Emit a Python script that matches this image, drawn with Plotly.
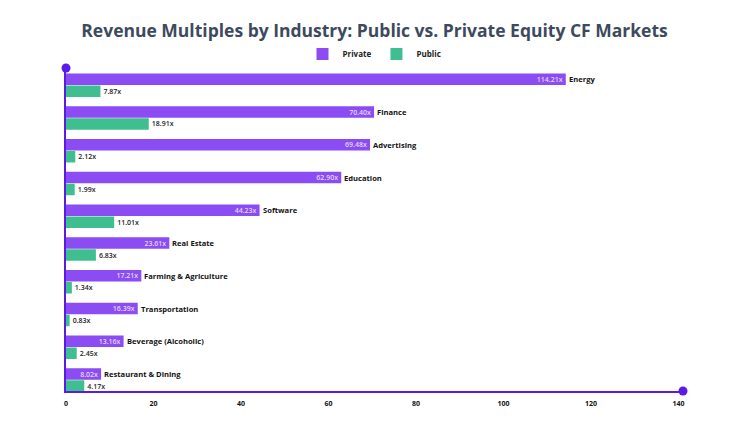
import plotly.graph_objects as go

industries = ["Energy", "Finance", "Advertising", "Education", "Software", "Real Estate",
              "Farming & Agriculture", "Transportation", "Beverage (Alcoholic)", "Restaurant & Dining"]
private_vals = [114.21, 70.40, 69.48, 62.90, 44.23, 23.61, 17.21, 16.39, 13.16, 8.02]
public_vals = [7.87, 18.91, 2.12, 1.99, 11.01, 6.83, 1.34, 0.83, 2.45, 4.17]
x_ticks = [0, 20, 40, 60, 80, 100, 120, 140]

PURPLE = "#8b4cf4"
GREEN = "#3fbf8f"
AXIS = "#5a1be6"
FONT = "Open Sans"

fig = go.Figure()
fig.add_trace(go.Bar(
    name="Private", y=industries, x=private_vals, orientation="h",
    marker=dict(color=PURPLE, line=dict(width=0)),
    text=[f"{v:.2f}x" for v in private_vals], textposition="inside",
    insidetextanchor="end", textangle=0, constraintext="none",
    textfont=dict(color="#e4d6ff", size=7, family=FONT, weight=600),
    cliponaxis=False,
))
fig.add_trace(go.Bar(
    name="Public", y=industries, x=public_vals, orientation="h",
    marker=dict(color=GREEN, line=dict(width=0)),
    text=[f"{v:.2f}x" for v in public_vals], textposition="outside", textangle=0,
    constraintext="none",
    textfont=dict(color="#222222", size=7, family=FONT, weight=600),
    cliponaxis=False,
))

annotations = []
for name, v in zip(industries, private_vals):
    annotations.append(dict(
        x=v, y=name, xref="x", yref="y", text=name, showarrow=False,
        xanchor="left", yanchor="middle", xshift=1, yshift=6,
        font=dict(size=7.6, color="#111111", family=FONT, weight=700),
    ))

n = len(industries)
fig.update_layout(
    width=748, height=421,
    margin=dict(l=58, r=73, t=60, b=38, autoexpand=False),
    paper_bgcolor="white", plot_bgcolor="white",
    barmode="group", bargap=0.27, bargroupgap=0.04,
    title=dict(text="Revenue Multiples by Industry: Public vs. Private Equity CF Markets",
               x=0.5, xanchor="center", xref="paper", y=(421 - 23) / 421, yanchor="middle",
               font=dict(family=FONT, size=17.5, color="#3d4a5e", weight=700)),
    legend=dict(orientation="h", x=0.5, xanchor="center", y=(421 - 46) / 421, yanchor="middle",
                yref="container", font=dict(family=FONT, size=8, color="#222222", weight=700),
                itemwidth=30, traceorder="normal", tracegroupgap=0),
    xaxis=dict(range=[0, 141], tickvals=x_ticks, ticktext=[str(t) for t in x_ticks],
               showgrid=False, zeroline=False, showline=True, linecolor=AXIS, linewidth=2,
               ticks="", ticklen=0, ticklabelstandoff=5,
               tickfont=dict(family=FONT, size=7, color="#111111", weight=700),
               fixedrange=True),
    yaxis=dict(categoryorder="array", categoryarray=industries,
               range=[n - 1 + 0.335, -0.527], autorange=False,
               showgrid=False, zeroline=False, showline=True, linecolor=AXIS, linewidth=2,
               showticklabels=False, ticks=""),
    annotations=annotations,
    shapes=[
        dict(type="circle", xref="paper", yref="paper", xsizemode="pixel", ysizemode="pixel",
             xanchor=0, yanchor=1, x0=-4.5, x1=4.5, y0=-4.5, y1=4.5,
             fillcolor=AXIS, line=dict(width=0)),
        dict(type="circle", xref="paper", yref="paper", xsizemode="pixel", ysizemode="pixel",
             xanchor=1, yanchor=0, x0=-4.5, x1=4.5, y0=-4.5, y1=4.5,
             fillcolor=AXIS, line=dict(width=0)),
    ],
    font=dict(family=FONT),
)
fig.write_html("out.html")
